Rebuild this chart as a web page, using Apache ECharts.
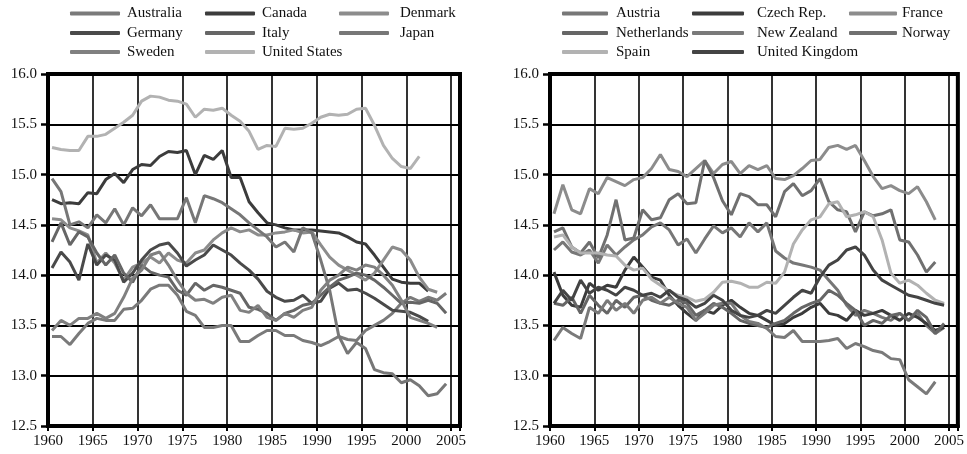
<!DOCTYPE html>
<html>
<head>
<meta charset="utf-8">
<script src="https://cdn.jsdelivr.net/npm/echarts@6/dist/echarts.min.js"></script>
<style>
html,body{margin:0;padding:0;background:#fff;}
#chart{width:967px;height:454px;}
</style>
</head>
<body>
<div id="chart"></div>
<script>
// ---------- DATA ----------
const startYear = 1960;
const xTicks = [1960, 1965, 1970, 1975, 1980, 1985, 1990, 1995, 2000, 2005];
const yTicks = [12.5, 13.0, 13.5, 14.0, 14.5, 15.0, 15.5, 16.0];

// Left panel
const leftNames = ['Australia', 'Canada', 'Denmark', 'Germany', 'Italy', 'Japan', 'Sweden', 'United States'];
const australia = [13.39,13.39,13.31,13.42,13.52,13.57,13.55,13.55,13.66,13.67,
  13.75,13.86,13.90,13.90,13.80,13.64,13.60,13.48,13.48,13.50,
  13.50,13.34,13.34,13.40,13.45,13.45,13.40,13.40,13.35,13.33,
  13.30,13.34,13.39,13.36,13.35,13.45,13.50,13.55,13.62,13.72,
  13.78,13.74,13.78,13.75,13.82];
const canada = [14.75,14.71,14.72,14.71,14.82,14.81,14.95,15.01,14.92,15.05,
  15.10,15.09,15.18,15.23,15.22,15.24,15.00,15.19,15.15,15.24,
  14.97,14.97,14.73,14.62,14.52,14.50,14.47,14.45,14.45,14.45,
  14.44,14.43,14.42,14.38,14.33,14.31,14.20,14.08,13.96,13.93,
  13.92,13.92,13.84];
const denmark = [14.56,14.55,14.47,14.44,14.40,14.12,14.22,14.12,13.95,14.08,
  14.12,14.18,14.12,14.22,14.15,14.12,14.22,14.25,14.35,14.42,
  14.47,14.43,14.45,14.40,14.40,14.42,14.43,14.45,14.42,14.43,
  14.30,14.18,14.10,14.05,14.00,13.95,14.02,14.15,14.28,14.25,
  14.15,13.98,13.86,13.83];
const germany = [14.07,14.23,14.13,13.95,14.31,14.10,14.20,14.15,13.93,14.02,
  14.15,14.25,14.30,14.32,14.22,14.09,14.15,14.20,14.30,14.25,
  14.20,14.12,14.05,13.96,13.84,13.78,13.74,13.75,13.80,13.72,
  13.74,13.87,13.92,13.85,13.86,13.82,13.77,13.71,13.65,13.64,
  13.63,13.59,13.54];
const italy = [14.33,14.52,14.30,14.43,14.38,14.22,14.10,14.20,14.02,13.93,
  14.10,14.03,14.00,13.98,13.85,13.80,13.92,13.85,13.90,13.88,
  13.85,13.82,13.68,13.66,13.62,13.55,13.62,13.65,13.70,13.72,
  13.80,13.88,13.95,13.98,14.02,14.00,13.95,13.88,13.80,13.72,
  13.73,13.72,13.75,13.72,13.62];
const japan = [14.96,14.83,14.50,14.53,14.47,14.60,14.52,14.66,14.50,14.67,
  14.59,14.70,14.56,14.56,14.56,14.77,14.52,14.79,14.76,14.72,
  14.66,14.60,14.52,14.45,14.38,14.28,14.33,14.23,14.47,14.42,
  14.15,13.85,13.40,13.22,13.33,13.27,13.06,13.03,13.02,12.93,
  12.96,12.90,12.80,12.82,12.92];
const sweden = [13.45,13.55,13.50,13.57,13.57,13.62,13.57,13.62,13.78,13.97,
  14.05,14.20,14.23,14.10,13.95,13.82,13.75,13.76,13.72,13.78,
  13.80,13.65,13.63,13.70,13.58,13.55,13.62,13.58,13.65,13.68,
  13.85,13.95,14.00,14.08,14.05,14.10,14.08,14.00,13.90,13.75,
  13.58,13.55,13.52,13.48];
const unitedStates = [15.27,15.25,15.24,15.24,15.38,15.38,15.40,15.46,15.52,15.59,
  15.73,15.78,15.77,15.74,15.73,15.70,15.57,15.65,15.64,15.66,
  15.59,15.53,15.43,15.25,15.29,15.28,15.46,15.45,15.46,15.51,
  15.57,15.60,15.59,15.60,15.65,15.66,15.49,15.29,15.16,15.08,
  15.06,15.18];

// Right panel
const rightNames = ['Austria', 'Czech Rep.', 'France', 'Netherlands', 'New Zealand', 'Norway', 'Spain', 'United Kingdom'];
const austria = [14.25,14.33,14.23,14.20,14.25,14.12,14.30,14.20,14.28,14.35,
  14.40,14.48,14.52,14.45,14.30,14.36,14.22,14.36,14.49,14.42,
  14.47,14.38,14.52,14.43,14.52,14.24,14.17,14.12,14.10,14.08,
  14.05,13.95,13.85,13.70,13.60,13.65,13.62,13.58,13.55,13.62,
  13.55,13.62,13.50,13.42,13.48];
const czech = [14.03,13.80,13.70,13.68,13.92,13.85,13.90,13.88,14.05,14.18,
  14.08,13.98,13.95,13.80,13.70,13.62,13.55,13.65,13.62,13.70,
  13.75,13.68,13.62,13.60,13.55,13.50,13.52,13.58,13.62,13.68,
  13.72,13.62,13.60,13.55,13.65,13.60,13.62,13.65,13.60,13.55,
  13.62,13.58,13.52,13.45,13.48];
const france = [14.61,14.90,14.65,14.61,14.86,14.81,14.97,14.93,14.89,14.95,
  14.97,15.06,15.20,15.05,15.03,14.98,15.06,15.14,15.01,15.10,
  15.13,15.01,15.09,15.05,15.09,14.96,14.95,14.99,15.06,15.14,
  15.15,15.27,15.29,15.25,15.29,15.14,14.98,14.86,14.89,14.84,
  14.81,14.88,14.73,14.55];
const netherlands = [13.72,13.70,13.78,13.62,13.80,13.70,13.62,13.75,13.68,13.78,
  13.80,13.75,13.72,13.70,13.75,13.72,13.60,13.65,13.72,13.68,
  13.62,13.55,13.52,13.50,13.48,13.52,13.55,13.62,13.68,13.72,
  13.75,13.85,13.80,13.72,13.65,13.50,13.55,13.52,13.60,13.62,
  13.55,13.65,13.58,13.42,13.52];
const newZealand = [13.35,13.48,13.42,13.37,13.68,13.62,13.75,13.65,13.72,13.62,
  13.75,13.78,13.72,13.78,13.72,13.68,13.55,13.62,13.70,13.72,
  13.72,13.60,13.54,13.52,13.47,13.39,13.38,13.45,13.34,13.34,
  13.34,13.35,13.37,13.27,13.32,13.29,13.25,13.23,13.17,13.16,
  12.96,12.89,12.82,12.94];
const norway = [14.43,14.47,14.28,14.22,14.33,14.17,14.40,14.75,14.35,14.37,
  14.65,14.55,14.57,14.75,14.81,14.71,14.72,15.14,14.97,14.74,
  14.60,14.81,14.78,14.70,14.70,14.58,14.83,14.91,14.79,14.84,
  14.96,14.73,14.65,14.63,14.43,14.63,14.59,14.61,14.65,14.35,
  14.33,14.20,14.03,14.13];
const spain = [14.38,14.40,14.28,14.22,14.22,14.22,14.20,14.19,14.10,14.05,
  14.07,13.96,13.90,13.84,13.80,13.78,13.74,13.76,13.83,13.93,
  13.94,13.92,13.88,13.88,13.93,13.92,14.03,14.31,14.45,14.55,
  14.58,14.71,14.73,14.58,14.60,14.63,14.58,14.35,14.02,13.92,
  13.95,13.90,13.82,13.75,13.72];
const unitedKingdom = [13.72,13.85,13.75,13.95,13.82,13.88,13.85,13.80,13.88,13.85,
  13.80,13.82,13.78,13.85,13.78,13.75,13.68,13.72,13.80,13.75,
  13.65,13.60,13.58,13.60,13.65,13.62,13.70,13.78,13.85,13.82,
  13.98,14.10,14.15,14.25,14.28,14.20,14.05,13.95,13.90,13.85,
  13.80,13.78,13.75,13.72,13.70];

const leftSeries = [australia, canada, denmark, germany, italy, japan, sweden, unitedStates];
const rightSeries = [austria, czech, france, netherlands, newZealand, norway, spain, unitedKingdom];
const leftColors = ['#7a7a7a', '#3c3c3c', '#8c8c8c', '#4a4a4a', '#666666', '#777777', '#808080', '#b2b2b2'];
const rightColors = ['#777777', '#3c3c3c', '#8c8c8c', '#666666', '#7a7a7a', '#707070', '#b2b2b2', '#444444'];

// ---------- CHART ----------
const FONT = '"Liberation Serif", "Times New Roman", serif';
const chart = echarts.init(document.getElementById('chart'), null, {renderer: 'canvas'});

function toPoints(arr) {
  return arr.map((v, i) => [startYear + i + 0.45, v]);
}

const grids = [
  {left: 48, top: 74, width: 412, height: 352, show: true, borderColor: '#000', borderWidth: 4, backgroundColor: 'transparent'},
  {left: 550, top: 74, width: 413, height: 352, show: true, borderColor: '#000', borderWidth: 4, backgroundColor: 'transparent'}
];

function xAxis(gi) {
  return {
    type: 'value', gridIndex: gi, min: 1960, max: 2006, interval: 5,
    axisLine: {show: true, onZero: false, lineStyle: {color: '#000', width: 4}},
    axisTick: {show: true, length: 5, lineStyle: {color: '#000', width: 2}},
    splitLine: {show: true, lineStyle: {color: '#000', width: 1.6}},
    axisLabel: {
      margin: 8, color: '#111', fontFamily: FONT, fontSize: 15,
      formatter: v => (xTicks.indexOf(v) >= 0 ? String(v) : '')
    }
  };
}
function yAxis(gi) {
  return {
    type: 'value', gridIndex: gi, min: 12.5, max: 16, interval: 0.5,
    axisLine: {show: true, lineStyle: {color: '#000', width: 4}},
    axisTick: {show: true, length: 7, lineStyle: {color: '#000', width: 2.5}},
    splitLine: {show: true, lineStyle: {color: '#000', width: 2}},
    axisLabel: {
      margin: 11, color: '#111', fontFamily: FONT, fontSize: 15,
      formatter: v => (yTicks.indexOf(v) >= 0 ? v.toFixed(1) : '')
    }
  };
}

const series = [];
leftNames.forEach((n, i) => series.push({
  name: n, type: 'line', xAxisIndex: 0, yAxisIndex: 0, data: toPoints(leftSeries[i]),
  showSymbol: false, symbol: 'none', color: leftColors[i],
  lineStyle: {width: 3, color: leftColors[i]}, z: 3
}));
rightNames.forEach((n, i) => series.push({
  name: n, type: 'line', xAxisIndex: 1, yAxisIndex: 1, data: toPoints(rightSeries[i]),
  showSymbol: false, symbol: 'none', color: rightColors[i],
  lineStyle: {width: 3, color: rightColors[i]}, z: 3
}));

// Legend layout: 3 columns x 3 rows per panel
const rowTops = [6, 25.5, 44.5];
const leftCols = [{x: 70, w: 50, pad: 2}, {x: 205, w: 50, pad: 2}, {x: 339, w: 50, pad: 6}];
const rightCols = [{x: 562, w: 46, pad: 3}, {x: 692, w: 52, pad: 8}, {x: 849, w: 48, pad: 0}];
const legends = [];
function addLegends(names, colors, cols) {
  names.forEach((n, i) => {
    const c = cols[i % 3];
    const r = Math.floor(i / 3);
    legends.push({
      data: [{name: n, icon: 'roundRect', itemStyle: {color: colors[i]}}],
      left: c.x, top: rowTops[r], padding: 0,
      itemWidth: c.w, itemHeight: 4, selectedMode: false,
      textStyle: {fontFamily: FONT, fontSize: 15, color: '#111', padding: [0, 0, 0, c.pad]}
    });
  });
}
addLegends(leftNames, leftColors, leftCols);
addLegends(rightNames, rightColors, rightCols);

chart.setOption({
  animation: false,
  backgroundColor: '#fff',
  grid: grids,
  xAxis: [xAxis(0), xAxis(1)],
  yAxis: [yAxis(0), yAxis(1)],
  legend: legends,
  series: series
});
</script>
</body>
</html>
